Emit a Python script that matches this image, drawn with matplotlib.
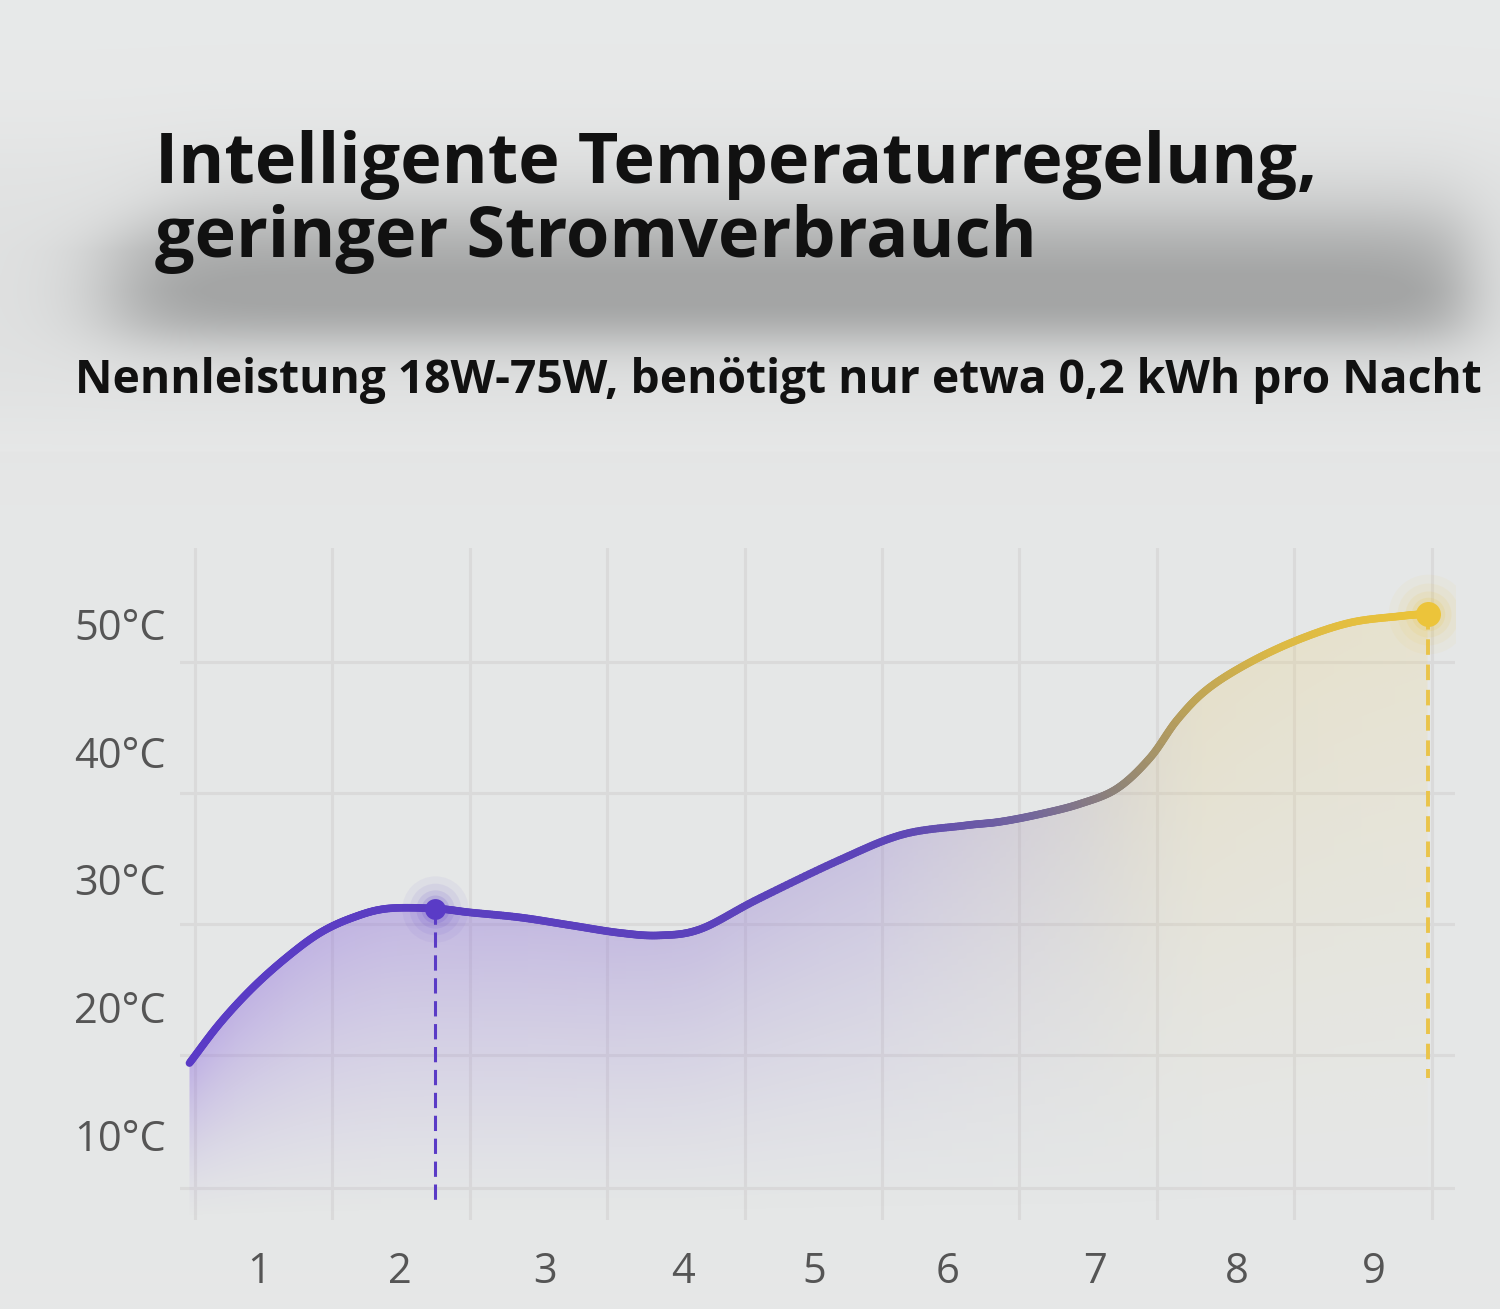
import numpy as np
import matplotlib
matplotlib.use("Agg")
import matplotlib.pyplot as plt
from matplotlib.collections import LineCollection
from matplotlib.colors import LinearSegmentedColormap
from matplotlib.patches import Polygon

plt.rcParams["font.family"] = ["Open Sans", "DejaVu Sans"]

# ===== data =====
title_lines = ["Intelligente Temperaturregelung,", "geringer Stromverbrauch"]
subtitle = "Nennleistung 18W-75W, benötigt nur etwa 0,2 kWh pro Nacht"

hours = [-0.04, 0.18, 0.42, 0.67, 0.91, 1.15, 1.40, 1.75, 2.00, 2.37, 2.73,
         3.09, 3.38, 3.68, 4.09, 4.69, 5.15, 5.60, 5.86, 6.15, 6.44, 6.71,
         6.95, 7.15, 7.37, 7.68, 8.04, 8.41, 8.77, 8.97]
temps = [15.6, 18.7, 21.5, 23.9, 25.8, 27.0, 27.7, 27.7, 27.4, 27.0, 26.4,
         25.8, 25.6, 26.1, 28.4, 31.5, 33.5, 34.2, 34.5, 35.1, 35.9, 37.1,
         39.5, 42.5, 44.9, 47.0, 48.8, 50.1, 50.6, 50.8]

low_point = (1.75, 27.7)
high_point = (8.97, 50.8)

xtick_labels = ["1", "2", "3", "4", "5", "6", "7", "8", "9"]
ytick_vals = [10, 20, 30, 40, 50]
ytick_labels = ["10°C", "20°C", "30°C", "40°C", "50°C"]

# layout helpers
W, H = 1500, 1309
XTICK_POS = [0.47, 1.49, 2.55, 3.55, 4.51, 5.48, 6.55, 7.58, 8.58]
GRID_Y = [5.8, 16.2, 26.5, 36.75, 47.0]
XLIM = (-0.109, 9.17)
YLIM = (3.31, 55.94)

PURPLE = "#5a3bc6"
YELLOW = "#ecc43a"
line_cmap = LinearSegmentedColormap.from_list(
    "pur_yel",
    [(0.0, "#5a3bc6"), (0.57, "#5d45b8"), (0.68, "#73669c"), (0.75, "#8e8379"),
     (0.81, "#bea457"), (0.88, "#dcb945"), (1.0, "#ecc43a")])


def catmull(xp, yp, n=24):
    p = np.column_stack([xp, yp])
    p = np.vstack([2 * p[0] - p[1], p, 2 * p[-1] - p[-2]])
    out = []
    t = np.linspace(0, 1, n, endpoint=False)[:, None]
    for i in range(1, len(p) - 2):
        p0, p1, p2, p3 = p[i - 1], p[i], p[i + 1], p[i + 2]
        seg = 0.5 * ((2 * p1) + (-p0 + p2) * t + (2 * p0 - 5 * p1 + 4 * p2 - p3) * t ** 2
                     + (-p0 + 3 * p1 - 3 * p2 + p3) * t ** 3)
        out.append(seg)
    out.append(p[-2][None, :])
    out = np.vstack(out)
    return out[:, 0], out[:, 1]


fig = plt.figure(figsize=(W / 100, H / 100), dpi=100)

# ===== background with blurred shadow behind the title =====
bg = fig.add_axes([0, 0, 1, 1], zorder=-10)
bg.set_axis_off()
X, Y = np.meshgrid(np.arange(0, W, 2), np.arange(0, H, 2))


def sig(v, c, w):
    return 1 / (1 + np.exp(-(v - c) / w))


left_edge = 115 + 45 * np.clip((250 - Y) / 60, 0, 1)
shade = sig(X, left_edge, 30) * (1 - sig(X, 1465, 20)) * sig(Y, 208, 24) * (1 - sig(Y, 336, 15))
shade *= 0.72 + 0.28 * np.clip((Y - 200) / 90, 0, 1)
haze = 0.12 * sig(Y, 150, 30) * (1 - sig(Y, 420, 25))
base = 232 - 2 * (Y > 450)
val = (base - 68 * np.clip(shade + haze, 0, 1)) / 255.0
bg.imshow(np.dstack([val, val + 0.005, val + 0.005]).clip(0, 1),
          extent=(0, W, H, 0), aspect="auto", interpolation="bilinear")
bg.set_xlim(0, W)
bg.set_ylim(H, 0)

# ===== title texts =====
fig.text(155 / W, 1 - 183 / H, title_lines[0], fontsize=50.5,
         fontweight="bold", color="#111111", va="baseline", ha="left")
fig.text(155 / W, 1 - 257 / H, title_lines[1], fontsize=50.5,
         fontweight="bold", color="#111111", va="baseline", ha="left")
fig.text(75 / W, 1 - 393 / H, subtitle, fontsize=33.2, fontweight="bold",
         color="#111111", va="baseline", ha="left")

# ===== chart =====
ax = fig.add_axes([180 / W, 1 - 1220 / H, 1275 / W, 672 / H])
ax.set_facecolor("none")
ax.set_xlim(*XLIM)
ax.set_ylim(*YLIM)
for s in ax.spines.values():
    s.set_visible(False)

for gx in range(10):
    ax.axvline(gx, color="#dadada", lw=2.2, zorder=1)
for gy in GRID_Y:
    ax.axhline(gy, color="#dadada", lw=2.2, zorder=1)

xs, ys = catmull(hours, temps)

# gradient fill under the curve
nx, ny = 600, 400
gx_ = np.linspace(XLIM[0], XLIM[1], nx)
gy_ = np.linspace(YLIM[0], YLIM[1], ny)
GX, GY = np.meshgrid(gx_, gy_)
frac = np.clip((gx_ - XLIM[0]) / (9.0 - XLIM[0]), 0, 1)
fill_cmap = LinearSegmentedColormap.from_list(
    "fill", [(0, "#8a64e0"), (0.55, "#8c72d0"), (0.72, "#b6a8a8"), (0.82, "#e6cc7a"), (1, "#f0d37a")])
cols = fill_cmap(frac)[:, :3]
curve_y = np.interp(gx_, xs, ys)
f = np.clip((GY - 3.3) / (curve_y[None, :] - 3.3), 0, 1) ** 1.3
amax = 0.42 - 0.2 * frac
img = np.zeros((ny, nx, 4))
img[..., :3] = cols[None, :, :]
img[..., 3] = f * amax[None, :]
im = ax.imshow(img, extent=(XLIM[0], XLIM[1], YLIM[0], YLIM[1]), origin="lower",
               aspect="auto", interpolation="bilinear", zorder=2)
clip = Polygon(np.vstack([np.column_stack([xs, ys]), [[xs[-1], YLIM[0]], [xs[0], YLIM[0]]]]),
               closed=True, transform=ax.transData, facecolor="none", edgecolor="none")
ax.add_patch(clip)
im.set_clip_path(clip)

# gradient line
pts = np.column_stack([xs, ys]).reshape(-1, 1, 2)
segs = np.concatenate([pts[:-1], pts[1:]], axis=1)
lc = LineCollection(segs, colors=line_cmap(np.clip((xs[:-1] - XLIM[0]) / (9.0 - XLIM[0]), 0, 1)),
                    linewidths=5.5, capstyle="round", zorder=4)
ax.add_collection(lc)

# dashed drop lines
ax.plot([low_point[0], low_point[0]], [low_point[1], 4.9], color=PURPLE, lw=2.2,
        dashes=(5, 2.5), zorder=3)
ax.plot([high_point[0], high_point[0]], [high_point[1], 14.4], color="#eac44a", lw=2.8,
        dashes=(4, 2.5), zorder=3)

# markers with glow
for (mx, my), c, r in [(low_point, PURPLE, 15), (high_point, YELLOW, 18)]:
    for k, a in [(4.5, 0.05), (3.5, 0.07), (2.6, 0.1), (1.9, 0.14)]:
        ax.scatter([mx], [my], s=(r * k) ** 2 / 2, color=c, alpha=a, lw=0, zorder=5)
    ax.scatter([mx], [my], s=r ** 2, color=c, lw=0, zorder=6)

# ticks
ax.set_xticks(XTICK_POS)
ax.set_xticklabels(xtick_labels)
ax.set_yticks(ytick_vals)
ax.set_yticklabels(ytick_labels)
ax.tick_params(axis="both", length=0, labelsize=30, colors="#555555")
ax.tick_params(axis="x", pad=22)
ax.tick_params(axis="y", pad=10)

fig.savefig("out.png", dpi=100)
